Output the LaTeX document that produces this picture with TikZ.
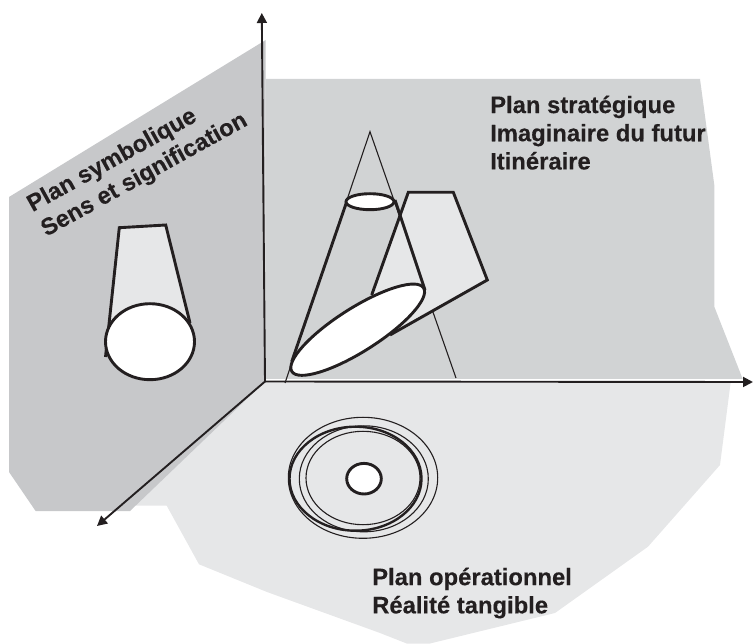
\documentclass[tikz,border=0pt]{standalone}
\usepackage{fontspec}
\setmainfont[BoldFeatures={FakeBold=0.25}]{Liberation Sans}
\usetikzlibrary{arrows.meta}
\definecolor{wallL}{HTML}{C7C8CA}
\definecolor{wallB}{HTML}{D1D3D4}
\definecolor{floorC}{HTML}{E6E7E8}
\definecolor{ink}{HTML}{231F20}
\tikzset{
  axisline/.style={draw=ink,line width=1.9pt,-{Triangle[length=10pt,width=10pt]}},
  thick outline/.style={draw=ink,line width=2.9pt,line join=miter},
  thin outline/.style={draw=ink,line width=1.1pt},
  hole/.style={draw=ink,line width=2.9pt,fill=white},
  planlabel/.style={font=\fontsize{23.8}{28.2}\selectfont\bfseries,align=left,inner sep=0pt,text=ink}
}
\begin{document}
\begin{tikzpicture}[x=1pt,y=-1pt]
\useasboundingbox (0,0) rectangle (753,644);
% planes
\fill[floorC] (265,381) -- (730.7,382) -- (720,465) -- (648,546.7) -- (555,613) -- (430,643.5) -- (406.7,643.5) -- (380,633) -- (267,592) -- (199,564.3) -- (166.7,505.7) -- (130,505.7) -- cycle;
\fill[wallL] (9,197) -- (265.7,40) -- (265.5,381) -- (130,511) -- (35.6,511) -- (9,472) -- cycle;
\fill[wallB] (265.5,79) -- (700,79) -- (714.3,185) -- (714.3,306.7) -- (742.7,379) -- (265.5,379) -- cycle;
% named axis points
\coordinate (O) at (265,381.5);
\coordinate (up) at (261.8,13);
\coordinate (right) at (753,382);
\coordinate (front) at (97,526);
% left cylinder
\fill[floorC] (119.3,227.7) -- (165.7,225) -- (190,323) -- (108.3,326.7) -- cycle;
\draw[thick outline] (105.5,357) -- (119.3,227.7) -- (165.7,225) -- (190,323);
\draw[hole] (150,341.7) ellipse [x radius=44.5,y radius=38];
% strategic plane: thin cone
\draw[thin outline] (285,383) -- (370,131.7) -- (456,378);
% trapezoid fill
\fill[floorC] (371.7,295) -- (408.3,192.3) -- (453.3,192.3) -- (487.3,280) -- (390,335) -- cycle;
% thick cone
\draw[thick outline] (347.3,200) -- (291.7,361.7);
\draw[thick outline] (395,200) -- (425,290);
% trapezoid outline
\draw[thick outline] (371.7,295) -- (408.3,192.3) -- (453.3,192.3) -- (487.3,280) -- (390,335);
% ellipses
\draw[hole] (370,201.7) ellipse [x radius=24,y radius=8];
\draw[hole] (357.7,329.7) ellipse [x radius=78,y radius=21.7,rotate=32.4];
% floor rings
\draw[thin outline] (363,477.8) ellipse [x radius=74.7,y radius=60.5];
\draw[thin outline] (363.8,478.8) ellipse [x radius=64.5,y radius=53];
\draw[thin outline] (363,478) ellipse [x radius=57,y radius=46.7];
\draw[thick outline,line width=2.4pt] (355.5,478.7) ellipse [x radius=66,y radius=52];
\draw[hole] (364,478.7) ellipse [x radius=17.3,y radius=15.3];
% axes
\draw[axisline] (O) -- (up);
\draw[axisline] (O) -- (right);
\draw[axisline] (O) -- (front);
% labels
\node[planlabel,anchor=north west] (strat) at (490,95.4) {Plan stratégique\\Imaginaire du futur\\Itinéraire};
\node[planlabel,anchor=north west] (oper) at (372,567.5) {Plan opérationnel\\Réalité tangible};
\node[planlabel,anchor=north west,rotate=29] (symb) at (24,197) {Plan symbolique\\Sens et signification};
\end{tikzpicture}
\end{document}
